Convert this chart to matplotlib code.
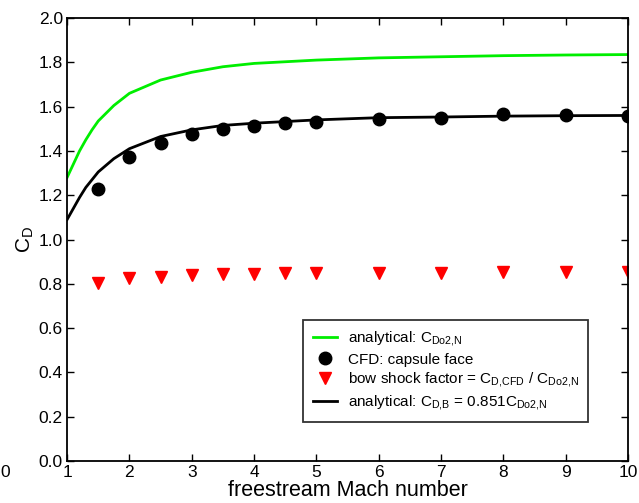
import matplotlib
matplotlib.use("Agg")
from matplotlib import pyplot as plt

plt.rcParams['font.family'] = ['Liberation Sans', 'DejaVu Sans']
plt.rcParams['mathtext.fontset'] = 'custom'
plt.rcParams['mathtext.rm'] = 'Liberation Sans'

# analytical curves
mach_curve = [1.0, 1.1, 1.2, 1.3, 1.4, 1.5, 1.75, 2.0, 2.5, 3.0, 3.5, 4.0, 5.0, 6.0, 7.0, 8.0, 9.0, 10.0]
cd_newton = [1.28, 1.34, 1.40, 1.45, 1.495, 1.535, 1.605, 1.66, 1.72, 1.755, 1.78, 1.795,
             1.81, 1.82, 1.825, 1.83, 1.833, 1.835]
cd_bow = [1.09, 1.14, 1.19, 1.235, 1.27, 1.305, 1.365, 1.41, 1.465, 1.495, 1.515, 1.525,
          1.54, 1.55, 1.553, 1.557, 1.559, 1.56]

# CFD points
mach_cfd = [1.5, 2, 2.5, 3, 3.5, 4, 4.5, 5, 6, 7, 8, 9, 10]
cd_cfd = [1.227, 1.371, 1.434, 1.475, 1.497, 1.514, 1.527, 1.532, 1.544, 1.550, 1.567, 1.561, 1.559]
bow_factor = [0.802, 0.825, 0.832, 0.838, 0.844, 0.844, 0.850, 0.850, 0.850, 0.850, 0.855, 0.855, 0.853]

fig = plt.figure(figsize=(6.39, 5.03), dpi=100)
ax = fig.add_axes([0.105, 0.0835, 0.878, 0.8807])

ax.plot(mach_curve, cd_newton, color='#00ee00', lw=2,
        label=r'analytical: C$_{\mathregular{Do2{,}N}}$')
ax.plot(mach_cfd, cd_cfd, 'o', color='black', ms=9, ls='none',
        label='CFD: capsule face')
ax.plot(mach_cfd, bow_factor, 'v', color='#ff0000', ms=9, ls='none',
        label=r'bow shock factor = C$_{\mathregular{D{,}CFD}}$ / C$_{\mathregular{Do2{,}N}}$')
ax.plot(mach_curve, cd_bow, color='black', lw=2,
        label=r'analytical: C$_{\mathregular{D{,}B}}$ = 0.851C$_{\mathregular{Do2{,}N}}$')

ax.set_xlim(1, 10)
ax.set_ylim(0, 2.0)
ax.set_xticks(range(1, 11))
ax.set_yticks([0.0, 0.2, 0.4, 0.6, 0.8, 1.0, 1.2, 1.4, 1.6, 1.8, 2.0])
ax.set_yticklabels(['%.1f' % v for v in ax.get_yticks()])
ax.tick_params(direction='in', top=True, right=True, labelsize=12.5, length=5, width=1, pad=3)
for s in ax.spines.values():
    s.set_linewidth(1.3)

ax.set_xlabel('freestream Mach number', fontsize=15.5, labelpad=0)
ax.set_ylabel(r'C$_{\mathregular{D}}$', fontsize=15, labelpad=2)

leg = ax.legend(loc='lower right', bbox_to_anchor=(0.929, 0.088), borderaxespad=0,
                fontsize=11, frameon=True, fancybox=False, edgecolor='black',
                handlelength=1.6, handletextpad=0.7, borderpad=0.6, labelspacing=0.25)
leg.get_frame().set_linewidth(1.3)

# label from the neighbouring panel, cut by the image edge
fig.text(0.0, 0.06, '0', fontsize=12.5, ha='left', va='center')

fig.savefig('out.png', dpi=100)
